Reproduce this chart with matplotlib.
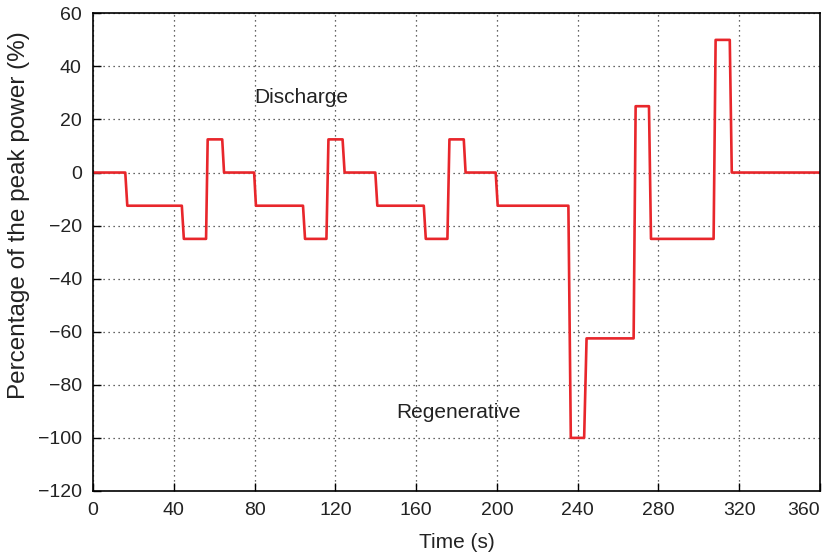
import matplotlib.pyplot as plt

# corner points of the power profile (time in s, power in % of peak)
time_s = [0, 16, 17, 44, 45, 56, 56.8, 64, 64.9, 79.8, 80.7, 104, 105,
          115.6, 116.6, 123.6, 124.6, 139.8, 140.8, 163.8, 164.8, 175.5,
          176.5, 183.6, 184.5, 199.4, 200.4, 235.4, 236.6, 243.2, 244.4,
          267.7, 268.7, 275.3, 276.3, 307.3, 308.3, 315.3, 316.3, 360]
power_pct = [0, 0, -12.5, -12.5, -25, -25, 12.5, 12.5, 0, 0, -12.5, -12.5,
             -25, -25, 12.5, 12.5, 0, 0, -12.5, -12.5, -25, -25, 12.5, 12.5,
             0, 0, -12.5, -12.5, -100, -100, -62.5, -62.5, 25, 25, -25, -25,
             50, 50, 0, 0]

x_ticks = list(range(0, 361, 40))
y_ticks = list(range(-120, 61, 20))

plt.rcParams['font.family'] = ['Liberation Sans', 'DejaVu Sans']

fig = plt.figure(figsize=(8.3, 5.56), dpi=100)
ax = fig.add_axes([0.112, 0.117, 0.876, 0.859])

ax.plot(time_s, power_pct, color='#e8262b', linewidth=1.9)

ax.set_xlim(0, 360)
ax.set_ylim(-120, 60)
ax.set_xticks(x_ticks)
ax.set_yticks(y_ticks)
ax.set_yticklabels([str(v).replace('-', '\u2212') for v in y_ticks])
ax.tick_params(axis='both', direction='in', length=6, width=1, color='black',
               labelsize=14, labelcolor='#222222')
ax.tick_params(axis='x', pad=8)
ax.tick_params(axis='y', pad=8)
# keep the last time label inside the figure
ax.get_xticklabels()[-1].set_ha('right')
ax.grid(True, linestyle=(0, (1, 3)), color='#333333', linewidth=0.9)
for sp in ax.spines.values():
    sp.set_linewidth(1.2)

ax.set_xlabel('Time (s)', fontsize=15, color='#222222', labelpad=10)
ax.set_ylabel('Percentage of the peak power (%)', fontsize=17.5, color='#222222')
ax.yaxis.set_label_coords(-0.087, 0.577)

ax.text(103, 28.3, 'Discharge', fontsize=15, color='#222222', ha='center', va='center')
ax.text(181, -90.6, 'Regenerative', fontsize=15, color='#222222', ha='center', va='center')

fig.savefig('out.png', dpi=100)
